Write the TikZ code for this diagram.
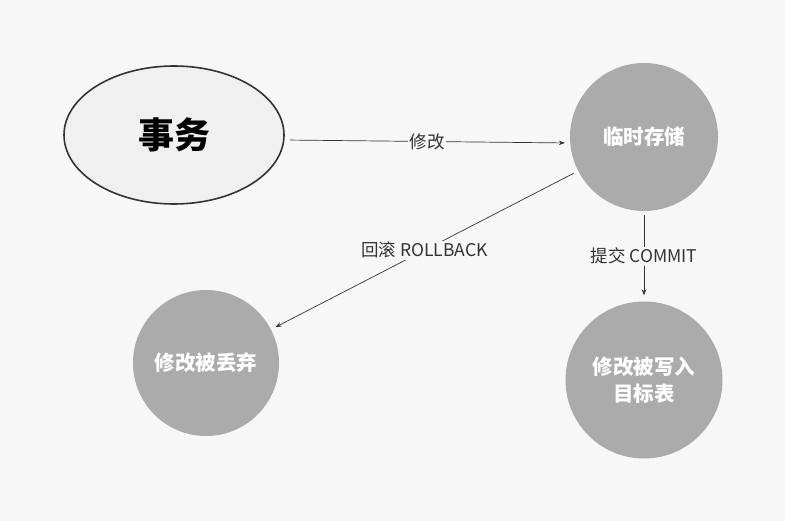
\documentclass[tikz,border=0pt]{standalone}
\usepackage{fontspec}
\setmainfont{Noto Sans CJK SC}
\usetikzlibrary{arrows.meta}
\usetikzlibrary{positioning, shapes.geometric}
\definecolor{bgcol}{HTML}{F7F7F7}
\definecolor{evtfill}{HTML}{F0F0F0}
\definecolor{stepfill}{HTML}{ABABAB}
\definecolor{linecol}{HTML}{333333}
\tikzset{
    evtnode/.style={draw=linecol, line width=1.6pt, fill=evtfill, ellipse,
        minimum width=220pt, minimum height=138pt, inner sep=0pt,
        font=\fontsize{36}{42}\selectfont\bfseries},
    stepnode/.style n args={1}{circle, fill=stepfill, text=white, inner sep=0pt,
        minimum size=#1, align=center, font=\fontsize{20.5}{27}\selectfont\bfseries},
    flow/.style={draw=linecol, line width=0.7pt, -{Stealth[length=6pt,width=4.5pt]},
        shorten <=5pt, shorten >=5pt},
    flowlabel/.style={fill=bgcol, text=linecol, inner sep=1.5pt,
        font=\fontsize{17.5}{19}\selectfont}
}

\begin{document}
\begin{tikzpicture}[x=1pt, y=-1pt]
    \fill[bgcol] (0,0) rectangle (785,521);
    \useasboundingbox (0,0) rectangle (785,521);
    \coordinate (c1) at (174, 135);
    \coordinate (c2) at (644, 137);
    \coordinate (c3) at (206, 363);
    \coordinate (c4) at (644, 380);
    \node[evtnode] (evt) at (c1) {事务};
    \node[stepnode=148pt] (tmp) at (c2) {临时存储};
    \node[stepnode=146pt] (drop) at (c3) {修改被丢弃};
    \node[stepnode=157pt] (done) at (c4) {修改被写入\\目标表};
    \draw[flow] ([yshift=-5pt]evt.east) -- ([yshift=-6pt]tmp.west)
        node[flowlabel, midway] {修改};
    \draw[flow] (tmp) -- (drop)
        node[flowlabel, midway] {回滚 ROLLBACK};
    \draw[flow, shorten <=4pt, shorten >=6pt] (tmp) -- (done)
        node[flowlabel, midway] {提交 COMMIT};
\end{tikzpicture}
\end{document}
